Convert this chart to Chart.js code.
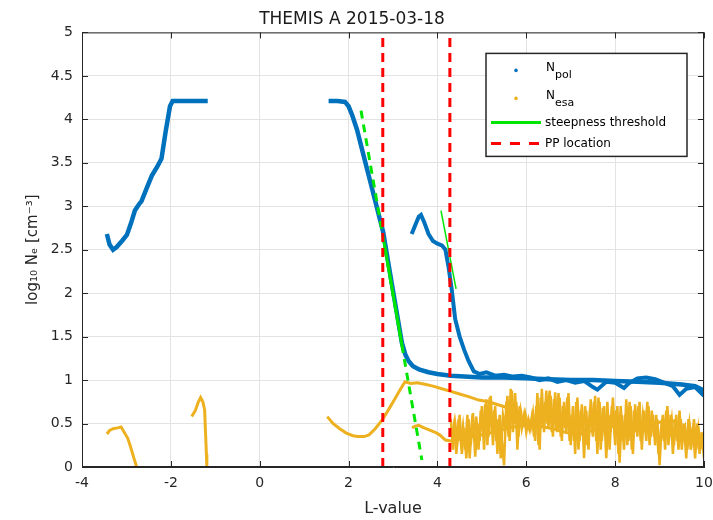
<!DOCTYPE html>
<html>
<head>
<meta charset="utf-8">
<title>THEMIS A 2015-03-18</title>
<script src="https://cdn.jsdelivr.net/npm/chart.js@4.4.0/dist/chart.umd.min.js"></script>
<style>
  html, body { margin: 0; padding: 0; background: #fff; }
</style>
</head>
<body>
<canvas id="themisChart" width="713" height="520"></canvas>
<script>
// N_pol (blue), three pieces
const polL1 = [-3.44, -3.38, -3.3, -3.22, -3.1, -2.99, -2.9, -2.81, -2.72, -2.66, -2.55, -2.43, -2.3, -2.21, -2.12, -2.02, -1.96, -1.7, -1.45, -1.17];
const polN1 = [2.68, 2.56, 2.5, 2.53, 2.6, 2.67, 2.8, 2.95, 3.02, 3.06, 3.2, 3.35, 3.46, 3.55, 3.85, 4.15, 4.21, 4.21, 4.21, 4.21];

const polL2 = [1.55, 1.75, 1.92, 2.0, 2.08, 2.19, 2.3, 2.45, 2.6, 2.7, 2.78, 2.9, 3.0, 3.1, 3.2, 3.28, 3.35, 3.45, 3.6, 3.8, 4.0, 4.3, 4.6, 5.0, 5.5, 6.0, 6.5, 7.0, 7.5, 8.0, 8.5, 9.0, 9.5, 9.8, 10];
const polN2 = [4.21, 4.21, 4.2, 4.15, 4.05, 3.88, 3.66, 3.36, 3.06, 2.86, 2.7, 2.33, 2.03, 1.73, 1.43, 1.29, 1.22, 1.16, 1.12, 1.09, 1.07, 1.05, 1.04, 1.03, 1.03, 1.02, 1.01, 1.0, 1.0, 0.99, 0.98, 0.97, 0.95, 0.93, 0.88];

const polL3 = [3.42, 3.5, 3.58, 3.63, 3.7, 3.8, 3.9, 4.0, 4.1, 4.18, 4.25, 4.32, 4.4, 4.5, 4.6, 4.7, 4.82, 4.95, 5.1, 5.3, 5.5, 5.7, 5.9, 6.1, 6.3, 6.5, 6.7, 6.9, 7.1, 7.3, 7.5, 7.6, 7.8, 8.0, 8.2, 8.3, 8.5, 8.7, 8.9, 9.1, 9.3, 9.45, 9.6, 9.8, 10];
const polN3 = [2.68, 2.78, 2.88, 2.9, 2.82, 2.68, 2.6, 2.57, 2.55, 2.5, 2.3, 2.05, 1.7, 1.5, 1.35, 1.22, 1.1, 1.07, 1.09, 1.05, 1.06, 1.04, 1.05, 1.03, 1.0, 1.02, 0.98, 1.0, 0.97, 0.99, 0.92, 0.89, 0.98, 0.97, 0.91, 0.96, 1.02, 1.03, 1.01, 0.97, 0.93, 0.83, 0.9, 0.92, 0.82];

// N_esa (orange)
const esaL1 = [-3.44, -3.38, -3.3, -3.2, -3.12, -3.05, -2.97, -2.9, -2.83, -2.77];
const esaN1 = [0.38, 0.42, 0.44, 0.45, 0.46, 0.4, 0.33, 0.22, 0.1, 0.0];

const esaL2 = [-1.53, -1.45, -1.38, -1.33, -1.28, -1.24, -1.22, -1.2, -1.19];
const esaN2 = [0.58, 0.65, 0.75, 0.8, 0.75, 0.66, 0.4, 0.15, 0.0];

const esaL3 = [1.52, 1.65, 1.8, 1.95, 2.1, 2.2, 2.35, 2.46, 2.6, 2.77, 2.9, 3.05, 3.15, 3.27, 3.4, 3.55, 3.74, 3.9, 4.1, 4.3, 4.5, 4.7, 4.93, 5.15, 5.4, 5.65, 5.9];
const esaN3 = [0.58, 0.5, 0.44, 0.39, 0.36, 0.35, 0.35, 0.37, 0.44, 0.55, 0.66, 0.79, 0.88, 0.98, 0.96, 0.97, 0.95, 0.93, 0.9, 0.87, 0.84, 0.81, 0.77, 0.75, 0.71, 0.67, 0.62];

const esaL4 = [3.43, 3.5, 3.58, 3.7, 3.8, 3.95, 4.05, 4.18, 4.3, 4.5, 4.8, 5.1, 5.4, 5.7, 6.0, 6.2, 6.4, 6.6, 6.8, 6.95, 7.15, 7.35, 7.55, 7.75, 7.9, 8.1, 8.3, 8.5, 8.7, 8.9, 9.1, 9.25, 9.45, 9.6, 9.8, 10];
const esaN4 = [0.45, 0.47, 0.48, 0.45, 0.43, 0.4, 0.37, 0.31, 0.3, 0.32, 0.35, 0.38, 0.42, 0.46, 0.48, 0.47, 0.46, 0.44, 0.41, 0.39, 0.37, 0.4, 0.43, 0.44, 0.46, 0.49, 0.5, 0.5, 0.48, 0.5, 0.53, 0.54, 0.5, 0.4, 0.3, 0.2];

// noisy part of N_esa, two interleaved passes
const esaL5 = [4.30, 4.35, 4.40, 4.45, 4.50, 4.55, 4.60, 4.65, 4.70, 4.75, 4.80, 4.85, 4.90, 4.95,
  5.00, 5.05, 5.10, 5.15, 5.20, 5.25, 5.30, 5.35, 5.40, 5.45, 5.50, 5.55, 5.60, 5.65, 5.70, 5.75, 5.80, 5.85, 5.90, 5.95,
  6.00, 6.05, 6.10, 6.15, 6.20, 6.25, 6.30, 6.35, 6.40, 6.45, 6.50, 6.55, 6.60, 6.65, 6.70, 6.75, 6.80, 6.85, 6.90, 6.95,
  7.00, 7.05, 7.10, 7.15, 7.20, 7.25, 7.30, 7.35, 7.40, 7.45, 7.50, 7.55, 7.60, 7.65, 7.70, 7.75, 7.80, 7.85, 7.90, 7.95,
  8.00, 8.05, 8.10, 8.15, 8.20, 8.25, 8.30, 8.35, 8.40, 8.45, 8.50, 8.55, 8.60, 8.65, 8.70, 8.75, 8.80, 8.85, 8.90, 8.95,
  9.00, 9.05, 9.10, 9.15, 9.20, 9.25, 9.30, 9.35, 9.40, 9.45, 9.50, 9.55, 9.60, 9.65, 9.70, 9.75, 9.80, 9.85, 9.90, 9.95, 10.0];
const esaN5 = [0.55, 0.2, 0.5, 0.3, 0.6, 0.15, 0.45, 0.1, 0.55, 0.25, 0.62, 0.12, 0.5, 0.3,
  0.7, 0.2, 0.78, 0.35, 0.82, 0.25, 0.7, 0.15, 0.6, 0.3, 0.02, 0.75, 0.35, 0.9, 0.4, 0.85, 0.2, 0.7, 0.45, 0.6,
  0.4, 0.55, 0.45, 0.62, 0.3, 0.85, 0.2, 0.9, 0.4, 0.88, 0.45, 0.82, 0.35, 0.86, 0.4, 0.8, 0.3, 0.75, 0.38, 0.85,
  0.25, 0.7, 0.15, 0.8, 0.3, 0.72, 0.1, 0.65, 0.2, 0.78, 0.35, 0.82, 0.15, 0.75, 0.3, 0.7, 0.1, 0.6, 0.4, 0.8,
  0.25, 0.7, 0.05, 0.6, 0.2, 0.78, 0.3, 0.7, 0.15, 0.72, 0.35, 0.75, 0.2, 0.65, 0.3, 0.7, 0.35, 0.6, 0.25, 0.55,
  0.02, 0.5, 0.3, 0.65, 0.25, 0.6, 0.15, 0.55, 0.3, 0.65, 0.2, 0.5, 0.1, 0.55, 0.2, 0.45, 0.1, 0.5, 0.15, 0.4, 0.1];

const esaL6 = [4.325, 4.375, 4.425, 4.475, 4.525, 4.575, 4.625, 4.675, 4.725, 4.775, 4.825, 4.875, 4.925, 4.975,
  5.025, 5.075, 5.125, 5.175, 5.225, 5.275, 5.325, 5.375, 5.425, 5.475, 5.525, 5.575, 5.625, 5.675, 5.725, 5.775, 5.825, 5.875, 5.925, 5.975,
  6.025, 6.075, 6.125, 6.175, 6.225, 6.275, 6.325, 6.375, 6.425, 6.475, 6.525, 6.575, 6.625, 6.675, 6.725, 6.775, 6.825, 6.875, 6.925, 6.975,
  7.025, 7.075, 7.125, 7.175, 7.225, 7.275, 7.325, 7.375, 7.425, 7.475, 7.525, 7.575, 7.625, 7.675, 7.725, 7.775, 7.825, 7.875, 7.925, 7.975,
  8.025, 8.075, 8.125, 8.175, 8.225, 8.275, 8.325, 8.375, 8.425, 8.475, 8.525, 8.575, 8.625, 8.675, 8.725, 8.775, 8.825, 8.875, 8.925, 8.975,
  9.025, 9.075, 9.125, 9.175, 9.225, 9.275, 9.325, 9.375, 9.425, 9.475, 9.525, 9.575, 9.625, 9.675, 9.725, 9.775, 9.825, 9.875, 9.925, 9.975];
const esaN6 = [0.35, 0.5, 0.15, 0.55, 0.3, 0.48, 0.2, 0.6, 0.1, 0.5, 0.35, 0.58, 0.2, 0.65,
  0.4, 0.72, 0.25, 0.8, 0.4, 0.65, 0.3, 0.55, 0.1, 0.6, 0.45, 0.82, 0.3, 0.88, 0.5, 0.75, 0.35, 0.65, 0.5, 0.62,
  0.5, 0.42, 0.58, 0.35, 0.7, 0.25, 0.8, 0.45, 0.75, 0.5, 0.88, 0.4, 0.78, 0.45, 0.85, 0.35, 0.7, 0.45, 0.8, 0.3,
  0.6, 0.3, 0.75, 0.2, 0.65, 0.4, 0.7, 0.25, 0.6, 0.45, 0.75, 0.3, 0.8, 0.2, 0.68, 0.35, 0.75, 0.2, 0.7, 0.45,
  0.65, 0.15, 0.7, 0.3, 0.6, 0.25, 0.75, 0.2, 0.65, 0.4, 0.7, 0.3, 0.6, 0.4, 0.75, 0.25, 0.65, 0.35, 0.6, 0.15,
  0.4, 0.6, 0.2, 0.7, 0.35, 0.55, 0.25, 0.6, 0.2, 0.55, 0.35, 0.45, 0.2, 0.5, 0.3, 0.55, 0.2, 0.45, 0.25, 0.35];

// steepness threshold fits
const thrL1 = [2.28, 3.65];
const thrN1 = [4.10, 0.08];
const thrL1s = [2.8, 3.22];
const thrN1s = [2.58, 1.35];
const thrL2 = [4.08, 4.42];
const thrN2 = [2.95, 2.05];

// plasmapause locations
const ppL = [2.77, 4.28];

const blue = '#0072BD';
const orange = '#EDB120';
const fontFam = "'DejaVu Sans', sans-serif";

function pts(L, N) {
    return L.map((v, i) => ({ x: v, y: N[i] }));
}

function line(L, N, color, width, order, dash) {
    return {
        data: pts(L, N),
        showLine: true,
        borderColor: color,
        backgroundColor: color,
        borderWidth: width,
        borderDash: dash || [],
        pointRadius: 0,
        order: order
    };
}

const datasets = [
    line(polL1, polN1, blue, 4.5, 5),
    line(polL2, polN2, blue, 4.5, 5),
    line(polL3, polN3, blue, 4, 5),
    line(esaL1, esaN1, orange, 3, 4),
    line(esaL2, esaN2, orange, 3, 4),
    line(esaL3, esaN3, orange, 3, 4),
    line(esaL4, esaN4, orange, 3, 4),
    line(esaL5, esaN5, orange, 2.5, 4),
    line(esaL6, esaN6, orange, 2.5, 4),
    line(thrL1, thrN1, '#00E600', 3, 3, [8, 6]),
    line(thrL1s, thrN1s, '#00E600', 3, 3),
    line(thrL2, thrN2, '#00E600', 1.5, 3),
    line([ppL[0], ppL[0]], [0, 5], '#FF0000', 3, 1, [9, 6]),
    line([ppL[1], ppL[1]], [0, 5], '#FF0000', 3, 1, [9, 6])
];

// axes box with inward ticks, matlab style
const axesBox = {
    id: 'axesBox',
    afterDatasetsDraw(chart) {
        const { ctx, chartArea: a, scales } = chart;
        ctx.save();
        ctx.strokeStyle = '#262626';
        ctx.lineWidth = 1;
        ctx.strokeRect(a.left + 0.5, a.top + 0.5, a.width - 1, a.height - 1);
        ctx.beginPath();
        scales.x.ticks.forEach(t => {
            const px = Math.round(scales.x.getPixelForValue(t.value)) + 0.5;
            ctx.moveTo(px, a.bottom); ctx.lineTo(px, a.bottom - 6);
            ctx.moveTo(px, a.top); ctx.lineTo(px, a.top + 6);
        });
        scales.y.ticks.forEach(t => {
            const py = Math.round(scales.y.getPixelForValue(t.value)) + 0.5;
            ctx.moveTo(a.left, py); ctx.lineTo(a.left + 6, py);
            ctx.moveTo(a.right, py); ctx.lineTo(a.right - 6, py);
        });
        ctx.stroke();
        ctx.restore();
    }
};

// legend drawn inside the plot, upper right
const legendBox = {
    id: 'legendBox',
    afterDraw(chart) {
        const { ctx, chartArea: a } = chart;
        const x0 = a.right - 218, y0 = a.top + 21, w = 201, h = 103;
        ctx.save();
        ctx.fillStyle = '#fff';
        ctx.fillRect(x0, y0, w, h);
        ctx.strokeStyle = '#262626';
        ctx.lineWidth = 1.5;
        ctx.strokeRect(x0, y0, w, h);

        ctx.fillStyle = blue;
        ctx.beginPath(); ctx.arc(x0 + 30, y0 + 17, 1.8, 0, Math.PI * 2); ctx.fill();
        ctx.fillStyle = orange;
        ctx.beginPath(); ctx.arc(x0 + 30, y0 + 45, 1.8, 0, Math.PI * 2); ctx.fill();

        ctx.fillStyle = '#000';
        ctx.textBaseline = 'alphabetic';
        const sub = (base, s, y) => {
            ctx.font = '12px ' + fontFam;
            ctx.fillText(base, x0 + 60, y);
            const bw = ctx.measureText(base).width;
            ctx.font = '11px ' + fontFam;
            ctx.fillText(s, x0 + 60 + bw, y + 7);
        };
        sub('N', 'pol', y0 + 18);
        sub('N', 'esa', y0 + 46);

        ctx.lineWidth = 3;
        ctx.strokeStyle = '#00E600';
        ctx.beginPath(); ctx.moveTo(x0 + 5, y0 + 69); ctx.lineTo(x0 + 55, y0 + 69); ctx.stroke();
        ctx.strokeStyle = '#FF0000';
        ctx.setLineDash([10, 9]);
        ctx.beginPath(); ctx.moveTo(x0 + 5, y0 + 90); ctx.lineTo(x0 + 55, y0 + 90); ctx.stroke();
        ctx.setLineDash([]);

        ctx.font = '12px ' + fontFam;
        ctx.textBaseline = 'middle';
        ctx.fillText('steepness threshold', x0 + 59, y0 + 69);
        ctx.fillText('PP location', x0 + 59, y0 + 90);
        ctx.restore();
    }
};

const ctx = document.getElementById('themisChart').getContext('2d');
new Chart(ctx, {
    type: 'scatter',
    data: { datasets: datasets },
    options: {
        responsive: false,
        animation: false,
        layout: { padding: { top: 0, right: 9, bottom: 0, left: 0 } },
        plugins: {
            legend: { display: false },
            tooltip: { enabled: false },
            title: {
                display: true,
                text: 'THEMIS A 2015-03-18',
                color: '#1a1a1a',
                font: { family: fontFam, size: 17, weight: 'normal' },
                padding: { top: 9, bottom: 3 }
            }
        },
        scales: {
            x: {
                type: 'linear',
                min: -4,
                max: 10,
                ticks: { stepSize: 2, color: '#262626', padding: 8, font: { family: fontFam, size: 14 } },
                grid: { color: '#e3e3e3', drawTicks: false },
                border: { color: '#262626' },
                title: {
                    display: true,
                    text: 'L-value',
                    color: '#262626',
                    font: { family: fontFam, size: 16 },
                    padding: { top: 2, bottom: 2 }
                },
                afterFit: s => { s.height = 53; s.paddingLeft = 0; s.paddingRight = 0; }
            },
            y: {
                type: 'linear',
                min: 0,
                max: 5,
                ticks: {
                    stepSize: 0.5,
                    color: '#262626',
                    padding: 9,
                    font: { family: fontFam, size: 14 },
                    callback: v => String(+v.toFixed(1))
                },
                grid: { color: '#e3e3e3', drawTicks: false },
                border: { color: '#262626' },
                title: {
                    display: true,
                    text: 'log₁₀ Nₑ [cm⁻³]',
                    color: '#262626',
                    font: { family: fontFam, size: 15 },
                    padding: { top: 24, bottom: 0 }
                },
                afterFit: s => { s.width = 82; }
            }
        }
    },
    plugins: [axesBox, legendBox]
});
</script>
</body>
</html>
